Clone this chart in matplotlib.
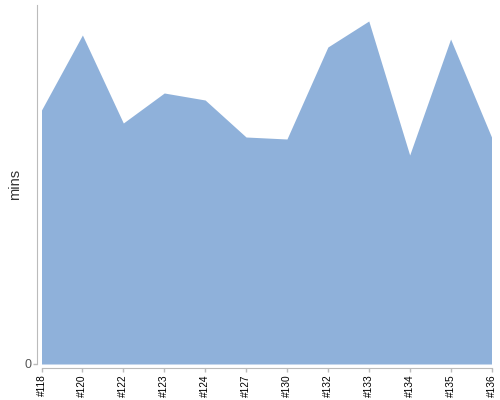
import numpy as np
import matplotlib
matplotlib.use('Agg')
import matplotlib.pyplot as plt

plt.rcParams['font.family'] = ['Liberation Sans', 'DejaVu Sans']

builds = ['#118', '#120', '#122', '#123', '#124', '#127',
          '#130', '#132', '#133', '#134', '#135', '#136']
mins = [254, 329, 241, 271, 264, 227, 225, 317, 343, 209, 325, 227]

fig = plt.figure(figsize=(5, 4), dpi=100)
ax = fig.add_axes([0.083, 0.09, 0.9, 0.8975])

x = np.arange(len(builds))
ax.fill_between(x, 0, mins, color='#8fb1da', linewidth=0)

ax.set_xlim(0, len(builds) - 1)
ax.set_ylim(0, 359)

# d3-like axes: grey, pushed out a bit
for s in ['top', 'right']:
    ax.spines[s].set_visible(False)
for s in ['left', 'bottom']:
    ax.spines[s].set_color('#bbbbbb')
    ax.spines[s].set_position(('outward', 3))
ax.spines['left'].set_bounds(0, 359)

ax.set_xticks(x)
ax.set_xticklabels(builds, rotation=90, fontsize=7.3, color='#000000')
ax.set_yticks([0])
ax.set_yticklabels(['0'], fontsize=9, color='#555555')
ax.tick_params(axis='both', colors='#bbbbbb', length=3, width=1, pad=1.5)
for lab in ax.get_xticklabels():
    lab.set_color('#000000')
for lab in ax.get_yticklabels():
    lab.set_color('#555555')

ax.set_ylabel('mins', fontsize=10.5, color='#333333')
ax.yaxis.set_label_coords(-0.043, 0.5)

fig.savefig('out.png', dpi=100)
